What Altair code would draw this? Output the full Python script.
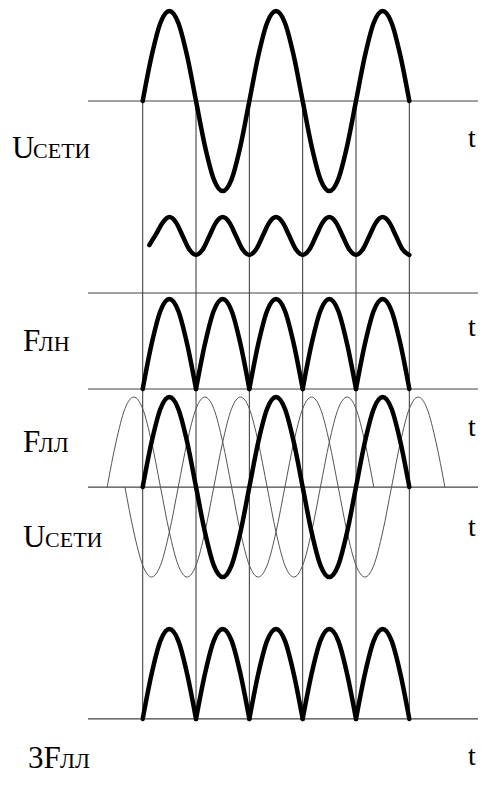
import altair as alt
import pandas as pd

# ---------------- data ----------------
# time axis in ms (50 Hz mains: half period = 10 ms); samples every 30 deg of mains phase
STEP = 10 / 6

# mains voltage U_сети, from t = 0 to t = 50 ms
U_SETI = [0, 0.5, 0.87, 1, 0.87, 0.5, 0, -0.5, -0.87, -1, -0.87, -0.5,
          0, 0.5, 0.87, 1, 0.87, 0.5, 0, -0.5, -0.87, -1, -0.87, -0.5,
          0, 0.5, 0.87, 1, 0.87, 0.5, 0]
U_SETI_T0 = 0.0

# ripple drawn under the mains wave (relative to the top axis)
RIPPLE_T = [1.25, 2.5, 3.75, 5, 6.25, 7.5, 8.75, 10,
            11.25, 12.5, 13.75, 15, 16.25, 17.5, 18.75, 20,
            21.25, 22.5, 23.75, 25, 26.25, 27.5, 28.75, 30,
            31.25, 32.5, 33.75, 35, 36.25, 37.5, 38.75, 40,
            41.25, 42.5, 43.75, 45, 46.25, 47.5, 48.75, 50]
RIPPLE_V = [-1.60, -1.48, -1.35, -1.29, -1.35, -1.50, -1.65, -1.71,
            -1.65, -1.50, -1.35, -1.29, -1.35, -1.50, -1.65, -1.71,
            -1.65, -1.50, -1.35, -1.29, -1.35, -1.50, -1.65, -1.71,
            -1.65, -1.50, -1.35, -1.29, -1.35, -1.50, -1.65, -1.71,
            -1.65, -1.50, -1.35, -1.29, -1.35, -1.50, -1.65, -1.71]

# luminous flux of a single lamp F_ЛН (rectified), t = 0 .. 50 ms
F_LN = [0, 0.5, 0.87, 1, 0.87, 0.5, 0, 0.5, 0.87, 1, 0.87, 0.5,
        0, 0.5, 0.87, 1, 0.87, 0.5, 0, 0.5, 0.87, 1, 0.87, 0.5,
        0, 0.5, 0.87, 1, 0.87, 0.5, 0]
F_LN_T0 = 0.0

# the two other phases (thin curves), shifted by -120 / +120 degrees
PHASE_B = [0, 0.5, 0.87, 1, 0.87, 0.5, 0, -0.5, -0.87, -1, -0.87, -0.5,
           0, 0.5, 0.87, 1, 0.87, 0.5, 0, -0.5, -0.87, -1, -0.87, -0.5,
           0, 0.5, 0.87, 1, 0.87, 0.5, 0]
PHASE_B_T0 = -6.667
PHASE_C = [0, -0.5, -0.87, -1, -0.87, -0.5, 0, 0.5, 0.87, 1, 0.87, 0.5,
           0, -0.5, -0.87, -1, -0.87, -0.5, 0, 0.5, 0.87, 1, 0.87, 0.5,
           0, -0.5, -0.87, -1, -0.87, -0.5, 0, 0.5, 0.87, 1, 0.87, 0.5, 0]
PHASE_C_T0 = -3.333

# summed flux 3F_ЛЛ, t = 0 .. 50 ms
F3_LL = [0, 0.5, 0.87, 1, 0.87, 0.5, 0, 0.5, 0.87, 1, 0.87, 0.5,
         0, 0.5, 0.87, 1, 0.87, 0.5, 0, 0.5, 0.87, 1, 0.87, 0.5,
         0, 0.5, 0.87, 1, 0.87, 0.5, 0]
F3_LL_T0 = 0.0

# vertical guide lines (zero crossings), ms
VLINE_T = [0, 10, 20, 30, 40, 50]

# ---------------- layout (code constants) ----------------
BASE_U1 = 7.622    # top axis
LINE_2 = 5.489
BASE_FLN = 4.422
BASE_FLL = 3.333
BASE_3F = 0.756
H_X0 = -10.26
X_DOMAIN = [-25.263, 62.88]
Y_DOMAIN = [0.1, 8.6556]
T_LABEL_X = 61.0


def rows(name, t0, values, base, arches=False):
    out = []
    if arches:
        for k in range((len(values) - 1) // 6):
            for j in range(7):
                i = 6 * k + j
                out.append({"t": t0 + i * STEP, "y": base + values[i], "seg": f"{name}{k}"})
    else:
        for i, v in enumerate(values):
            out.append({"t": t0 + i * STEP, "y": base + v, "seg": name})
    return out


thick_rows = []
thick_rows += rows("u1", U_SETI_T0, U_SETI, BASE_U1)
thick_rows += [{"t": t, "y": BASE_U1 + v, "seg": "rip"} for t, v in zip(RIPPLE_T, RIPPLE_V)]
thick_rows += rows("fln", F_LN_T0, F_LN, BASE_FLN, arches=True)
thick_rows += rows("u2", U_SETI_T0, U_SETI, BASE_FLL)
thick_rows += rows("f3", F3_LL_T0, F3_LL, BASE_3F, arches=True)
thick_df = pd.DataFrame(thick_rows)

thin_df = pd.DataFrame(rows("b", PHASE_B_T0, PHASE_B, BASE_FLL) +
                       rows("c", PHASE_C_T0, PHASE_C, BASE_FLL))

h_df = pd.DataFrame({"x0": [H_X0] * 5, "x1": [X_DOMAIN[1]] * 5,
                     "y": [BASE_U1, LINE_2, BASE_FLN, BASE_FLL, BASE_3F]})
v_df = pd.DataFrame({"t": VLINE_T, "y0": [BASE_3F] * 6, "y1": [BASE_U1] * 6})

MAIN, SUB, TS = 31, 22, 28
lab_df = pd.DataFrame([
    {"t": -24.51, "y": 6.989, "text": "U", "size": MAIN},
    {"t": -20.57, "y": 6.989, "text": "СЕТИ", "size": SUB},
    {"t": -22.45, "y": 4.844, "text": "F", "size": MAIN},
    {"t": -19.50, "y": 4.844, "text": "ЛН", "size": SUB},
    {"t": -22.45, "y": 3.722, "text": "F", "size": MAIN},
    {"t": -19.50, "y": 3.722, "text": "ЛЛ", "size": SUB},
    {"t": -22.45, "y": 2.667, "text": "U", "size": MAIN},
    {"t": -18.32, "y": 2.667, "text": "СЕТИ", "size": SUB},
    {"t": -21.51, "y": 0.21, "text": "3F", "size": MAIN},
    {"t": -15.51, "y": 0.21, "text": "ЛЛ", "size": SUB},
    {"t": T_LABEL_X, "y": 7.111, "text": "t", "size": TS},
    {"t": T_LABEL_X, "y": 5.011, "text": "t", "size": TS},
    {"t": T_LABEL_X, "y": 3.900, "text": "t", "size": TS},
    {"t": T_LABEL_X, "y": 2.789, "text": "t", "size": TS},
    {"t": T_LABEL_X, "y": 0.240, "text": "t", "size": TS},
])

xs = alt.Scale(domain=X_DOMAIN, nice=False, zero=False)
ys = alt.Scale(domain=Y_DOMAIN, nice=False, zero=False)

hl = alt.Chart(h_df).mark_rule(color="#444", strokeWidth=1.2).encode(
    x=alt.X("x0:Q", scale=xs, axis=None), x2="x1:Q",
    y=alt.Y("y:Q", scale=ys, axis=None))

vl = alt.Chart(v_df).mark_rule(color="#333", strokeWidth=1).encode(
    x=alt.X("t:Q", scale=xs, axis=None),
    y=alt.Y("y0:Q", scale=ys, axis=None), y2="y1:Q")

thin = alt.Chart(thin_df).mark_line(color="#555", strokeWidth=1, interpolate="monotone").encode(
    x=alt.X("t:Q", scale=xs, axis=None),
    y=alt.Y("y:Q", scale=ys, axis=None),
    detail="seg:N")

thick = alt.Chart(thick_df).mark_line(color="black", strokeWidth=4.5, interpolate="monotone",
                                      strokeCap="round", strokeJoin="round").encode(
    x=alt.X("t:Q", scale=xs, axis=None),
    y=alt.Y("y:Q", scale=ys, axis=None),
    detail="seg:N")

text = alt.Chart(lab_df).mark_text(align="left", baseline="alphabetic", font="Liberation Serif",
                                   color="black").encode(
    x=alt.X("t:Q", scale=xs, axis=None),
    y=alt.Y("y:Q", scale=ys, axis=None),
    text="text:N",
    size=alt.Size("size:Q", scale=None))

chart = alt.layer(hl, vl, thin, thick, text).properties(
    width=470, height=770, padding=0,
    autosize=alt.AutoSizeParams(type="none"),
    background="white",
).configure_view(stroke="transparent")

chart.save("out.html", embed_options={"renderer": "svg", "actions": False})
